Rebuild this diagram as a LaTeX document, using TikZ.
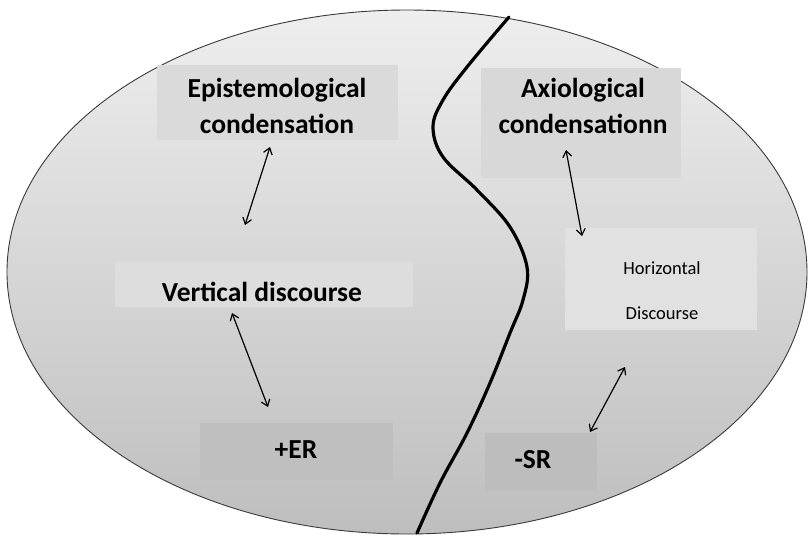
\documentclass[tikz,border=0pt]{standalone}
\usepackage{fontspec}
\setmainfont{Carlito}
\usetikzlibrary{arrows.meta}
\definecolor{shadetop}{HTML}{EEEEEE}
\definecolor{shademid}{HTML}{D8D8D8}
\definecolor{shadebot}{HTML}{BEBEBE}
\definecolor{rim}{HTML}{3A3A3A}
\begin{document}
\begin{tikzpicture}[x=1pt,y=-1pt,
  panel/.style={inner sep=0pt, draw=none},
  bigtxt/.style={inner sep=0pt, align=center, font=\fontsize{27.5}{36}\selectfont\bfseries},
  smalltxt/.style={inner sep=0pt, align=center, font=\fontsize{18.5}{45}\selectfont},
  link/.style={line width=1.2pt, {Straight Barb[length=6pt,width=9pt]}-{Straight Barb[length=6pt,width=9pt]}}]
\useasboundingbox (0,0) rectangle (809,539);
\fill[white] (0,0) rectangle (809,539);

% the shaded oval
\shade[top color=shadetop, middle color=shademid, bottom color=shadebot] (407,272) ellipse [x radius=400, y radius=262];
\draw[rim, line width=0.9pt] (407,272) ellipse [x radius=400, y radius=262];

% panels behind the labels
\node[panel, fill={rgb,255:red,218;green,218;blue,218}, minimum width=241pt, minimum height=75pt] (epibox) at (277.5,102.5) {};
\node[panel, fill={rgb,255:red,216;green,216;blue,216}, minimum width=200pt, minimum height=110pt] (axibox) at (581,123) {};
\node[panel, fill={rgb,255:red,221;green,221;blue,221}, minimum width=298pt, minimum height=45pt] (vertbox) at (264,284.5) {};
\node[panel, fill={rgb,255:red,225;green,225;blue,225}, minimum width=192pt, minimum height=102pt] (horbox) at (661,279) {};
\node[panel, fill={rgb,255:red,191;green,191;blue,191}, minimum width=193pt, minimum height=57pt] (erbox) at (296.5,451.5) {};
\node[panel, fill={rgb,255:red,189;green,189;blue,189}, minimum width=112pt, minimum height=57pt] (srbox) at (541,461.5) {};

% labels
\node[bigtxt] (epi) at (277,106) {Epistemological\\condensation};
\node[bigtxt] (axi) at (583,106) {Axiological\\condensationn};
\node[bigtxt] (vert) at (262,292) {Vertical discourse};
\node[smalltxt] (hor) at (662,290.5) {Horizontal\\Discourse};
\node[bigtxt] (er) at (296,450) {+ER};
\node[bigtxt] (sr) at (533,460) {-SR};

% dividing line
\draw[line width=3.2pt, line cap=round] plot[smooth, tension=0.6] coordinates
  {(509,17) (467,67) (443,100) (433,127) (443,157) (477,190) (510,227) (527,267)
   (523,300) (510,333) (490,383) (467,433) (440,483) (417,533)};

% two-way links
\coordinate (a1) at (270,147); \coordinate (a2) at (245,225);
\coordinate (b1) at (232,313); \coordinate (b2) at (268,407);
\coordinate (c1) at (566,150); \coordinate (c2) at (582,236);
\coordinate (d1) at (625,367); \coordinate (d2) at (590,432);
\draw[link] (a1) -- (a2);
\draw[link] (b1) -- (b2);
\draw[link] (c1) -- (c2);
\draw[link] (d1) -- (d2);
\end{tikzpicture}
\end{document}
